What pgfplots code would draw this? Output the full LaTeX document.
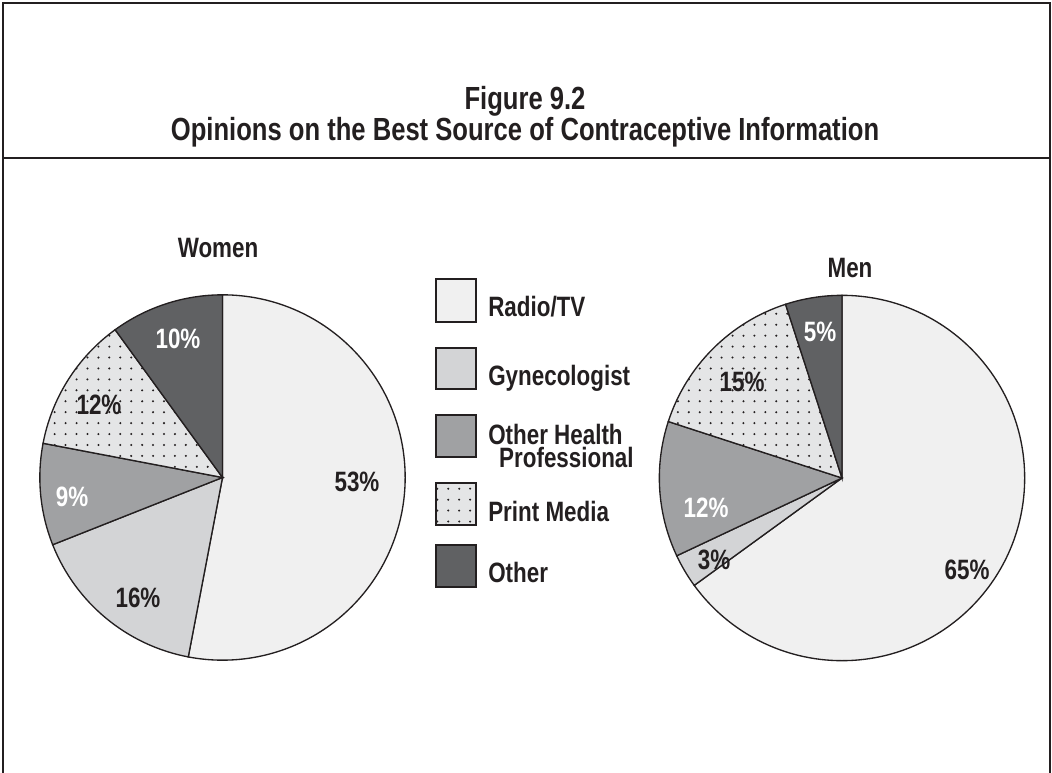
\documentclass[border=0pt]{standalone}
\usepackage{pgfplots}
\pgfplotsset{compat=1.18}
\usepackage{fontspec}
\setmainfont{Liberation Sans}[FakeStretch=0.8]
\usetikzlibrary{patterns}

\definecolor{radiotv}{HTML}{F0F0F0}
\definecolor{gyne}{HTML}{D3D4D6}
\definecolor{ohp}{HTML}{A0A1A3}
\definecolor{printbg}{HTML}{E4E5E6}
\definecolor{other}{HTML}{606163}
\definecolor{ink}{HTML}{231F20}

% dot grid for Print Media
\pgfdeclarepatternformonly{printdots}{\pgfqpoint{-1pt}{-1pt}}{\pgfqpoint{1pt}{1pt}}{\pgfqpoint{8.2pt}{8.2pt}}%
  {\pgfpathcircle{\pgfqpoint{0pt}{0pt}}{0.85pt}\pgfusepath{fill}}

\tikzset{
  s1/.style={fill=radiotv},
  s2/.style={fill=gyne},
  s3/.style={fill=ohp},
  s4/.style={fill=printbg, postaction={pattern=printdots, pattern color=ink}},
  s5/.style={fill=other},
}
\newcommand\R{137pt}% 183 px
% #1 centre, #2 share before, #3 share, #4 style  (clockwise from 12 o'clock)
\newcommand\slice[4]{%
  \filldraw[#4, draw=ink, line width=1pt] (#1) -- ++({90-3.6*(#2)}:\R)
    arc[start angle={90-3.6*(#2)}, delta angle={-3.6*(#3)}, radius=\R] -- cycle;}
\newcommand\lab{\fontsize{21}{23}\selectfont\bfseries}
\newcommand\ttl{\fontsize{24}{27}\selectfont\bfseries}

\begin{document}
\begin{tikzpicture}
\begin{axis}[
    scale only axis,
    width=789pt, height=579.75pt,
    xmin=0, xmax=1052, ymin=0, ymax=773,
    y dir=reverse,
    hide axis, clip=false,
  ]
  % frame
  \draw[ink, line width=1.9pt] (3,790) -- (3,3) -- (1050,3) -- (1050,790);
  \draw[ink, line width=1.6pt] (3,158) -- (1050,158);
  \node[ink, font=\ttl, anchor=base] at (525,110) {Figure 9.2};
  \node[ink, font=\ttl, anchor=base] at (525,141) {Opinions on the Best Source of Contraceptive Information};

  % Women: 53, 16, 9, 12, 10
  \slice{222.5,477.5}{0}{53}{s1}
  \slice{222.5,477.5}{53}{16}{s2}
  \slice{222.5,477.5}{69}{9}{s3}
  \slice{222.5,477.5}{78}{12}{s4}
  \slice{222.5,477.5}{90}{10}{s5}
  % Men: 65, 3, 12, 15, 5
  \slice{842,478}{0}{65}{s1}
  \slice{842,478}{65}{3}{s2}
  \slice{842,478}{68}{12}{s3}
  \slice{842,478}{80}{15}{s4}
  \slice{842,478}{95}{5}{s5}

  \node[ink, font=\lab] at (218,248) {Women};
  \node[ink, font=\lab] at (850,268) {Men};

  % slice labels
  \node[ink, font=\lab] at (357,482) {53\%};
  \node[ink, font=\lab] at (138,598) {16\%};
  \node[white, font=\lab] at (72,497) {9\%};
  \node[ink, font=\lab] at (99,405) {12\%};
  \node[white, font=\lab] at (178,339) {10\%};
  \node[ink, font=\lab] at (967,570) {65\%};
  \node[ink, font=\lab] at (714,560) {3\%};
  \node[white, font=\lab] at (706,508) {12\%};
  \node[ink, font=\lab] at (742,382) {15\%};
  \node[white, font=\lab] at (820,332) {5\%};

  % legend
  \filldraw[s1, draw=ink, line width=1pt] (436,279) rectangle (476,322);
  \filldraw[s2, draw=ink, line width=1pt] (436,348) rectangle (476,389);
  \filldraw[s3, draw=ink, line width=1pt] (436,415) rectangle (476,457);
  \filldraw[s4, draw=ink, line width=1pt] (436,483) rectangle (476,525);
  \filldraw[s5, draw=ink, line width=1pt] (436,545) rectangle (476,587);
  \begin{scope}[every node/.style={ink, font=\lab, anchor=base west, inner sep=0pt}]
  \node at (488,316) {Radio/TV};
  \node at (488,385) {Gynecologist};
  \node[align=left, font=\fontsize{21}{17.2}\selectfont\bfseries] at (488,467)
    {Other Health\\\hspace*{8.2pt}Professional};
  \node at (488,521) {Print Media};
  \node at (488,582) {Other};
  \end{scope}
\end{axis}
\pgfresetboundingbox
\path (current axis.south west) rectangle (current axis.north east);
\end{tikzpicture}
\end{document}
